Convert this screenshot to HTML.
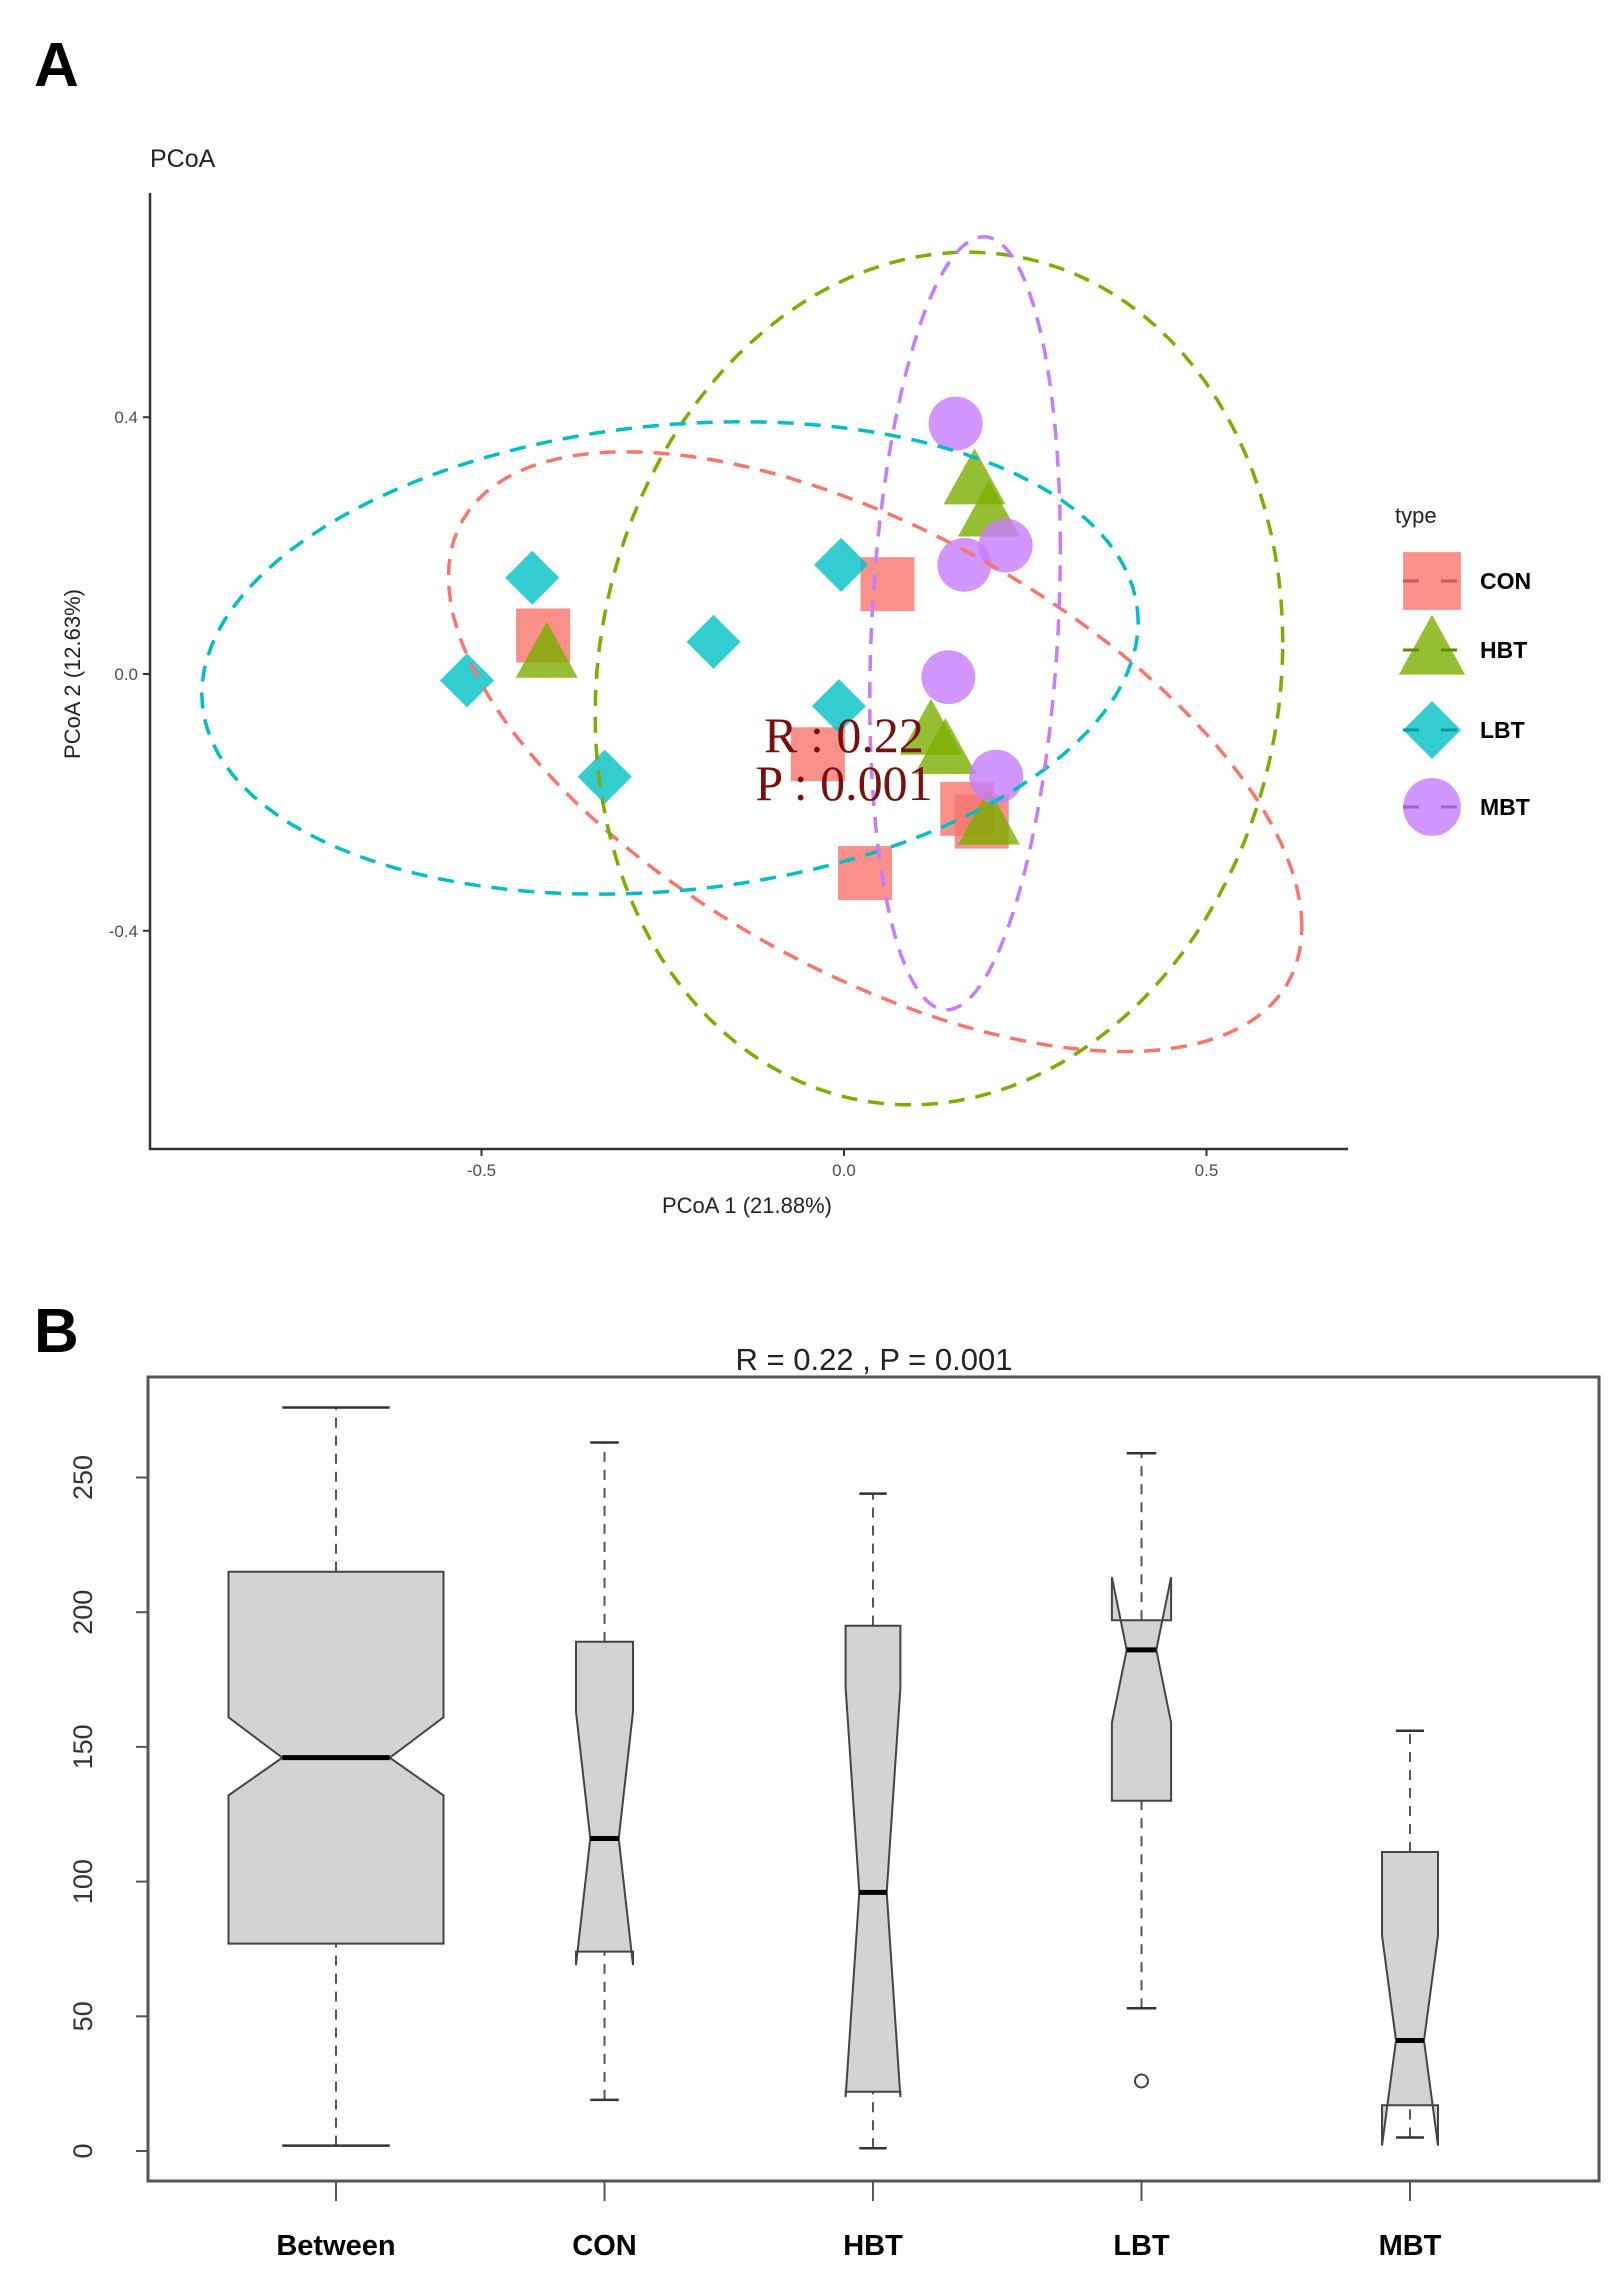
<!DOCTYPE html>
<html><head><meta charset="utf-8"><style>
html,body{margin:0;padding:0;background:#fff;}
svg{display:block;font-family:"Liberation Sans",sans-serif;}
</style></head><body>
<svg id="fig" width="1623" height="2289" viewBox="0 0 1623 2289" xmlns="http://www.w3.org/2000/svg">
<text x="34" y="86" font-size="62" font-weight="bold">A</text>
<text x="150" y="167" font-size="25" fill="#222">PCoA</text>
<g id="pcoa"></g>
<g id="legend">
<text x="1395" y="523" font-size="22" fill="#222">type</text>
</g>
<text x="34" y="1352" font-size="62" font-weight="bold">B</text>
<text x="874" y="1370" font-size="31" text-anchor="middle" fill="#222">R =  0.22 ,  P =  0.001</text>
<g id="box"></g>
</svg>
<script>
const NS='http://www.w3.org/2000/svg';
// ---- Panel A data ----
const groups=['CON','HBT','LBT','MBT'];
const colors={CON:'#F8766D',HBT:'#7CAE00',LBT:'#00BFC4',MBT:'#C77CFF'};
const conX=[-0.415,0.06,-0.036,0.17,0.19,0.029];
const conY=[0.06,0.14,-0.125,-0.21,-0.23,-0.31];
const hbtX=[-0.41,0.18,0.2,0.12,0.14,0.2];
const hbtY=[0.03,0.3,0.25,-0.09,-0.12,-0.23];
const lbtX=[-0.43,-0.52,-0.18,-0.004,-0.007,-0.33];
const lbtY=[0.15,-0.01,0.05,0.17,-0.05,-0.16];
const mbtX=[0.154,0.223,0.166,0.144,0.21];
const mbtY=[0.39,0.2,0.17,-0.005,-0.16];
// ellipse: center x, center y, var x, var y, cov xy (data units)
const ellCX=[0.043,0.131,-0.24,0.167];
const ellCY=[-0.121,-0.007,0.025,0.079];
const ellVX=[0.3464,0.2249,0.417,0.01727];
const ellVY=[0.2182,0.4411,0.1354,0.3626];
const ellCov=[-0.1605,0.02657,0.036,0.01549];
const xTicks=[-0.5,0.0,0.5];
const yTicks=[0.4,0.0,-0.4];
const ptsX={CON:conX,HBT:hbtX,LBT:lbtX,MBT:mbtX};
const ptsY={CON:conY,HBT:hbtY,LBT:lbtY,MBT:mbtY};

const sx=x=>844+x*725;
const sy=y=>674-y*642;
function mk(tag,attrs,parent){const e=document.createElementNS(NS,tag);for(const k in attrs)e.setAttribute(k,attrs[k]);parent.appendChild(e);return e;}

const A=document.getElementById('pcoa');
function shape(g,x,y,parent,s){
  let e;
  if(g==='CON'){e=mk('rect',{x:x-27*s,y:y-27*s,width:54*s,height:54*s},parent);}
  else if(g==='HBT'){e=mk('polygon',{points:`${x},${y-33*s} ${x+31*s},${y+23*s} ${x-31*s},${y+23*s}`},parent);}
  else if(g==='LBT'){e=mk('polygon',{points:`${x},${y-27*s} ${x+27*s},${y} ${x},${y+27*s} ${x-27*s},${y}`},parent);}
  else {e=mk('circle',{cx:x,cy:y,r:27*s},parent);}
  e.setAttribute('fill',colors[g]);e.setAttribute('fill-opacity','0.8');
  return e;
}
// axes
let ax=mk('line',{x1:150,y1:193,x2:150,y2:1150,stroke:'#333','stroke-width':2.5},A);


ax=mk('line',{x1:149,y1:1149,x2:1348,y2:1149,stroke:'#333','stroke-width':2.5},A);


xTicks.forEach(v=>{
  mk('line',{x1:sx(v),y1:1149,x2:sx(v),y2:1156,stroke:'#333','stroke-width':2},A);
  const t=mk('text',{x:sx(v),y:1176,'font-size':17,'text-anchor':'middle',fill:'#4d4d4d'},A);
  t.textContent=v.toFixed(1);
  
  
});
yTicks.forEach(v=>{
  mk('line',{x1:143,y1:sy(v),x2:150,y2:sy(v),stroke:'#333','stroke-width':2},A);
  const t=mk('text',{x:138,y:sy(v)+6,'font-size':17,'text-anchor':'end',fill:'#4d4d4d'},A);
  t.textContent=v.toFixed(1);
  
  
});
let lab=mk('text',{x:747,y:1213,'font-size':22,'text-anchor':'middle',fill:'#222'},A);
lab.textContent='PCoA 1 (21.88%)';


lab=mk('text',{x:80,y:674,'font-size':22,'text-anchor':'middle',fill:'#222',transform:'rotate(-90 80 674)'},A);
lab.textContent='PCoA 2 (12.63%)';


// points
groups.forEach(g=>{
  ptsX[g].forEach((x,i)=>{
    const e=shape(g,sx(x),sy(ptsY[g][i]),A,1);
    
    
  });
});
// ellipses
groups.forEach((g,i)=>{
  const l11=Math.sqrt(ellVX[i]),l21=ellCov[i]/l11,l22=Math.sqrt(ellVY[i]-l21*l21);
  let d='';
  for(let k=0;k<=120;k++){const t=k/120*2*Math.PI;
    const x=ellCX[i]+l11*Math.cos(t),y=ellCY[i]+l21*Math.cos(t)+l22*Math.sin(t);
    d+=(k?'L':'M')+sx(x).toFixed(1)+','+sy(y).toFixed(1);}
  const p=mk('path',{d:d+'Z',fill:'none',stroke:colors[g],'stroke-width':3.5,'stroke-dasharray':'16 11'},A);
  
  
});
let rt=mk('text',{x:844,y:752,'font-size':50,'text-anchor':'middle',fill:'#7a0f0f','font-family':'Liberation Serif, serif'},A);
rt.textContent='R : 0.22';


rt=mk('text',{x:844,y:800,'font-size':50,'text-anchor':'middle',fill:'#7a0f0f','font-family':'Liberation Serif, serif'},A);
rt.textContent='P : 0.001';


// legend
const L=document.getElementById('legend');
const legY=[581,650,730,807];
groups.forEach((g,i)=>{
  const grp=mk('g',{},L);
  
  
  shape(g,1432,legY[i],grp,1.07);
  mk('line',{x1:1403,y1:legY[i],x2:1461,y2:legY[i],stroke:colors[g],'stroke-width':3,'stroke-dasharray':'16 22','filter':'brightness(0.8)'},grp);
  const t=mk('text',{x:1480,y:legY[i]+8,'font-size':23,'font-weight':'bold'},grp);
  t.textContent=g;
});

// ---- Panel B data ----
const boxCats=['Between','CON','HBT','LBT','MBT'];
const wLow=[2,19,1,53,5];
const q1=[77,74,22,130,17];
const med=[146,116,96,186,41];
const q3=[215,189,195,197,111];
const wHigh=[276,263,244,259,156];
const notchLo=[132,69,20,159,2];
const notchHi=[161,163,172,213,80];
const relWidth=[1,0.265,0.255,0.275,0.26];
const outlierCat=[3];
const outlierVal=[26];
const bTicks=[0,50,100,150,200,250];

const bx=i=>336+i*268.5;
const by=v=>2151-v*2.694;
const B=document.getElementById('box');
let fr=mk('rect',{x:148,y:1377,width:1451,height:804,fill:'none',stroke:'#555','stroke-width':3},B);


bTicks.forEach(v=>{
  mk('line',{x1:136,y1:by(v),x2:148,y2:by(v),stroke:'#555','stroke-width':2},B);
  const t=mk('text',{x:0,y:0,'font-size':27,'text-anchor':'middle',fill:'#333',transform:`translate(92 ${by(v)}) rotate(-90)`},B);
  t.textContent=v;
  
  
});
boxCats.forEach((c,i)=>{
  const x=bx(i),hw=107.5*relWidth[i];
  mk('line',{x1:x,y1:2181,x2:x,y2:2201,stroke:'#555','stroke-width':2},B);
  const t=mk('text',{x:x,y:2255,'font-size':29,'font-weight':'bold','text-anchor':'middle'},B);
  t.textContent=c;
  
  
  const g=mk('g',{},B);
  
  
  mk('line',{x1:x,y1:by(wLow[i]),x2:x,y2:by(q1[i]),stroke:'#555','stroke-width':2,'stroke-dasharray':'10 8'},g);
  mk('line',{x1:x,y1:by(q3[i]),x2:x,y2:by(wHigh[i]),stroke:'#555','stroke-width':2,'stroke-dasharray':'10 8'},g);
  mk('line',{x1:x-hw/2,y1:by(wLow[i]),x2:x+hw/2,y2:by(wLow[i]),stroke:'#333','stroke-width':2.5},g);
  mk('line',{x1:x-hw/2,y1:by(wHigh[i]),x2:x+hw/2,y2:by(wHigh[i]),stroke:'#333','stroke-width':2.5},g);
  const pts=[[x-hw,q1[i]],[x-hw,notchLo[i]],[x-hw/2,med[i]],[x-hw,notchHi[i]],[x-hw,q3[i]],[x+hw,q3[i]],[x+hw,notchHi[i]],[x+hw/2,med[i]],[x+hw,notchLo[i]],[x+hw,q1[i]]];
  mk('polygon',{points:pts.map(p=>p[0].toFixed(1)+','+by(p[1]).toFixed(1)).join(' '),fill:'#d3d3d3',stroke:'#444','stroke-width':2},g);
  mk('line',{x1:x-hw/2,y1:by(med[i]),x2:x+hw/2,y2:by(med[i]),stroke:'#000','stroke-width':5},g);
});
outlierCat.forEach((c,k)=>{
  const o=mk('circle',{cx:bx(c),cy:by(outlierVal[k]),r:6.5,fill:'none',stroke:'#444','stroke-width':2},B);
  
  
});
</script>
</body></html>
